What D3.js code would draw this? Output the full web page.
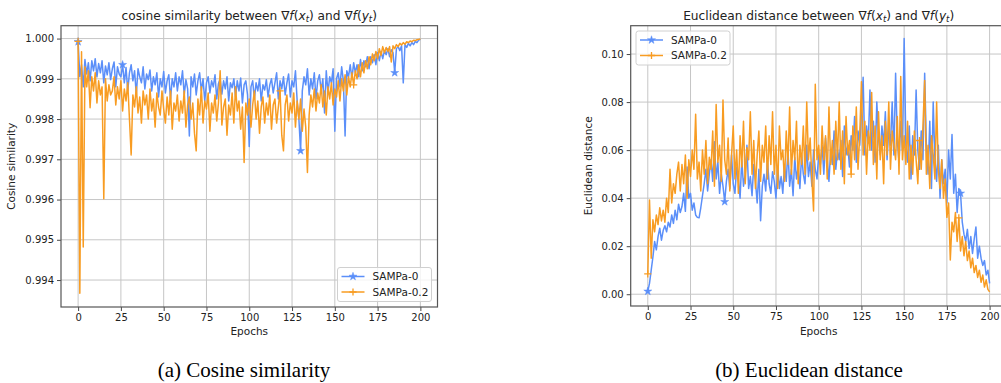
<!DOCTYPE html>
<html>
<head>
<meta charset="utf-8">
<script src="https://cdn.jsdelivr.net/npm/d3@7"></script>
<style>
  body { margin: 0; background: #fff; }
  svg { display: block; }
  text { font-family: "DejaVu Sans", sans-serif; fill: #222; }
  .caption { font-family: "Liberation Serif", "Times New Roman", serif; fill: #000; }
</style>
</head>
<body>
<script>
// epochs 0..200
const epochs = d3.range(0, 201);

const cosSampa0 = [
  0.99992,
  0.99905, 0.99935, 0.99880, 0.99948, 0.99912, 0.99940, 0.99895, 0.99945, 0.99920,
  0.99950, 0.99905, 0.99938, 0.99915, 0.99945, 0.99890, 0.99932, 0.99910, 0.99940, 0.99898,
  0.99925, 0.99942, 0.99880, 0.99930, 0.99912, 0.99905, 0.99935, 0.99890, 0.99928, 0.99870,
  0.99915, 0.99935, 0.99895, 0.99920, 0.99860, 0.99925, 0.99905, 0.99890, 0.99930, 0.99875,
  0.99912, 0.99898, 0.99922, 0.99870, 0.99905, 0.99885, 0.99915, 0.99855, 0.99900, 0.99880,
  0.99918, 0.99865, 0.99895, 0.99910, 0.99850, 0.99900, 0.99880, 0.99915, 0.99870, 0.99905,
  0.99885, 0.99920, 0.99860, 0.99898, 0.99875, 0.99758, 0.99905, 0.99880, 0.99912, 0.99860,
  0.99895, 0.99915, 0.99870, 0.99900, 0.99845, 0.99890, 0.99905, 0.99865, 0.99895, 0.99880,
  0.99910, 0.99850, 0.99888, 0.99900, 0.99862, 0.99895, 0.99875, 0.99905, 0.99845, 0.99890,
  0.99878, 0.99900, 0.99855, 0.99895, 0.99870, 0.99902, 0.99840, 0.99885, 0.99895, 0.99860,
  0.99732, 0.99880, 0.99895, 0.99850, 0.99890, 0.99870, 0.99900, 0.99845, 0.99885, 0.99872,
  0.99898, 0.99855, 0.99885, 0.99900, 0.99865, 0.99890, 0.99915, 0.99850, 0.99895, 0.99875,
  0.99905, 0.99860, 0.99890, 0.99912, 0.99855, 0.99895, 0.99880, 0.99920, 0.99845, 0.99800,
  0.99721, 0.99870, 0.99905, 0.99885, 0.99925, 0.99860, 0.99900, 0.99875, 0.99915, 0.99850,
  0.99895, 0.99910, 0.99870, 0.99900, 0.99815, 0.99920, 0.99865, 0.99905, 0.99890, 0.99925,
  0.99770, 0.99900, 0.99915, 0.99880, 0.99930, 0.99895, 0.99758, 0.99920, 0.99905, 0.99935,
  0.99900, 0.99940, 0.99915, 0.99935, 0.99905, 0.99948, 0.99920, 0.99945, 0.99930, 0.99955,
  0.99925, 0.99955, 0.99940, 0.99960, 0.99935, 0.99965, 0.99945, 0.99968, 0.99950, 0.99970,
  0.99960, 0.99975, 0.99955, 0.99972, 0.99965, 0.99915, 0.99975, 0.99980, 0.99970, 0.99982,
  0.99890, 0.99985, 0.99978, 0.99988, 0.99982, 0.99990, 0.99985, 0.99993, 0.99990, 0.99996,
  0.99998
];

const cosSampa02 = [
  0.99993,
  0.99367, 0.99967, 0.99482, 0.99930, 0.99880, 0.99920, 0.99828, 0.99905, 0.99870,
  0.99915, 0.99840, 0.99895, 0.99860, 0.99880, 0.99602, 0.99900, 0.99845, 0.99885, 0.99860,
  0.99870, 0.99905, 0.99835, 0.99880, 0.99850, 0.99895, 0.99820, 0.99875, 0.99845, 0.99890,
  0.99800, 0.99711, 0.99860, 0.99830, 0.99880, 0.99815, 0.99855, 0.99790, 0.99870, 0.99835,
  0.99860, 0.99800, 0.99875, 0.99820, 0.99850, 0.99780, 0.99865, 0.99830, 0.99810, 0.99870,
  0.99825, 0.99790, 0.99855, 0.99810, 0.99870, 0.99775, 0.99840, 0.99820, 0.99860, 0.99795,
  0.99845, 0.99815, 0.99870, 0.99780, 0.99835, 0.99855, 0.99800, 0.99840, 0.99765, 0.99721,
  0.99850, 0.99810, 0.99880, 0.99790, 0.99845, 0.99825, 0.99865, 0.99770, 0.99840, 0.99815,
  0.99860, 0.99795, 0.99840, 0.99920, 0.99785, 0.99830, 0.99850, 0.99760, 0.99835, 0.99810,
  0.99865, 0.99790, 0.99880, 0.99820, 0.99845, 0.99775, 0.99830, 0.99692, 0.99840, 0.99810,
  0.99850, 0.99780, 0.99835, 0.99870, 0.99800, 0.99845, 0.99765, 0.99830, 0.99855, 0.99790,
  0.99840, 0.99810, 0.99860, 0.99775, 0.99835, 0.99850, 0.99790, 0.99830, 0.99870, 0.99760,
  0.99721, 0.99835, 0.99860, 0.99795, 0.99840, 0.99815, 0.99865, 0.99780, 0.99845, 0.99800,
  0.99850, 0.99770, 0.99825, 0.99780, 0.99667, 0.99810, 0.99860, 0.99830, 0.99875, 0.99820,
  0.99865, 0.99840, 0.99885, 0.99830, 0.99870, 0.99810, 0.99880, 0.99850, 0.99890, 0.99835,
  0.99875, 0.99855, 0.99895, 0.99845, 0.99900, 0.99870, 0.99910, 0.99860, 0.99905, 0.99880,
  0.99915, 0.99885, 0.99920, 0.99900, 0.99935, 0.99905, 0.99940, 0.99915, 0.99945, 0.99925,
  0.99955, 0.99935, 0.99962, 0.99945, 0.99968, 0.99950, 0.99975, 0.99958, 0.99980, 0.99965,
  0.99978, 0.99968, 0.99980, 0.99942, 0.99982, 0.99975, 0.99985, 0.99980, 0.99988, 0.99984,
  0.99990, 0.99986, 0.99992, 0.99990, 0.99994, 0.99992, 0.99996, 0.99995, 0.99997, 0.99998,
  0.99999
];

const eucSampa0 = [
  0.0012,
  0.0045, 0.0100, 0.0155, 0.0220, 0.0185, 0.0240, 0.0275, 0.0225, 0.0265,
  0.0285, 0.0260, 0.0300, 0.0280, 0.0330, 0.0295, 0.0350, 0.0310, 0.0375, 0.0340,
  0.0365, 0.0420, 0.0345, 0.0530, 0.0400, 0.0420, 0.0350, 0.0380, 0.0330, 0.0320,
  0.0318, 0.0360, 0.0410, 0.0460, 0.0520, 0.0430, 0.0500, 0.0560, 0.0470, 0.0635,
  0.0480, 0.0550, 0.0420, 0.0500, 0.0450, 0.0385, 0.0470, 0.0520, 0.0440, 0.0580,
  0.0460, 0.0420, 0.0530, 0.0480, 0.0400, 0.0560, 0.0450, 0.0500, 0.0620, 0.0440,
  0.0490, 0.0410, 0.0540, 0.0470, 0.0380, 0.0520, 0.0306, 0.0450, 0.0500, 0.0430,
  0.0560, 0.0460, 0.0420, 0.0510, 0.0470, 0.0400, 0.0530, 0.0440, 0.0490, 0.0420,
  0.0540, 0.0470, 0.0600, 0.0450, 0.0520, 0.0410, 0.0570, 0.0480, 0.0530, 0.0440,
  0.0580, 0.0500, 0.0460, 0.0620, 0.0490, 0.0550, 0.0450, 0.0600, 0.0520, 0.0480,
  0.0580, 0.0540, 0.0620, 0.0500, 0.0650, 0.0560, 0.0470, 0.0600, 0.0540, 0.0680,
  0.0520, 0.0600, 0.0560, 0.0640, 0.0490, 0.0700, 0.0580, 0.0620, 0.0530, 0.0660,
  0.0600, 0.0740, 0.0550, 0.0680, 0.0620, 0.0760, 0.0903, 0.0580, 0.0700, 0.0630,
  0.0850, 0.0600, 0.0720, 0.0550, 0.0800, 0.0650, 0.0580, 0.0700, 0.0620, 0.0760,
  0.0560, 0.0690, 0.0620, 0.0800, 0.0580, 0.0920, 0.0640, 0.0550, 0.0720, 0.0600,
  0.1065, 0.0620, 0.0550, 0.0700, 0.0480, 0.0660, 0.0580, 0.0850, 0.0600, 0.0520,
  0.0680, 0.0560, 0.0920, 0.0620, 0.0500, 0.0720, 0.0440, 0.0800, 0.0560, 0.0470,
  0.0620, 0.0400, 0.0560, 0.0460, 0.0520, 0.0380, 0.0600, 0.0480, 0.0665, 0.0420,
  0.0500, 0.0340, 0.0440, 0.0420, 0.0300, 0.0250, 0.0220, 0.0270, 0.0190, 0.0240,
  0.0170, 0.0230, 0.0280, 0.0150, 0.0200, 0.0150, 0.0120, 0.0140, 0.0080, 0.0100,
  0.0045
];

const eucSampa02 = [
  0.0085,
  0.0392, 0.0150, 0.0310, 0.0260, 0.0330, 0.0290, 0.0360, 0.0305, 0.0350,
  0.0300, 0.0400, 0.0340, 0.0520, 0.0380, 0.0460, 0.0420, 0.0500, 0.0550, 0.0430,
  0.0540, 0.0460, 0.0580, 0.0400, 0.0560, 0.0490, 0.0600, 0.0520, 0.0749, 0.0480,
  0.0550, 0.0430, 0.0600, 0.0500, 0.0640, 0.0460, 0.0570, 0.0520, 0.0680, 0.0450,
  0.0790, 0.0550, 0.0620, 0.0470, 0.0809, 0.0560, 0.0500, 0.0650, 0.0430, 0.0580,
  0.0700, 0.0480, 0.0600, 0.0420, 0.0660, 0.0530, 0.0720, 0.0460, 0.0610, 0.0560,
  0.0760, 0.0500, 0.0640, 0.0440, 0.0580, 0.0680, 0.0470, 0.0620, 0.0550, 0.0700,
  0.0480, 0.0660, 0.0540, 0.0760, 0.0500, 0.0620, 0.0440, 0.0700, 0.0560, 0.0600,
  0.0470, 0.0680, 0.0540, 0.0780, 0.0500, 0.0640, 0.0560, 0.0720, 0.0460, 0.0620,
  0.0540, 0.0700, 0.0500, 0.0800, 0.0560, 0.0650, 0.0480, 0.0347, 0.0874, 0.0560,
  0.0620, 0.0500, 0.0700, 0.0560, 0.0660, 0.0480, 0.0780, 0.0540, 0.0640, 0.0500,
  0.0720, 0.0560, 0.0800, 0.0520, 0.0680, 0.0460, 0.0740, 0.0580, 0.0640, 0.0500,
  0.0700, 0.0560, 0.0780, 0.0520, 0.0660, 0.0885, 0.0580, 0.0720, 0.0500, 0.0680,
  0.0600, 0.0840, 0.0540, 0.0700, 0.0480, 0.0760, 0.0560, 0.0660, 0.0460, 0.0720,
  0.0580, 0.0800, 0.0520, 0.0680, 0.0620, 0.0560, 0.0740, 0.0500, 0.0906, 0.0560,
  0.0660, 0.0540, 0.0720, 0.0480, 0.0620, 0.0500, 0.0680, 0.0560, 0.0460, 0.0640,
  0.0520, 0.0700, 0.0890, 0.0500, 0.0620, 0.0440, 0.0660, 0.0580, 0.0480, 0.0800,
  0.0520, 0.0440, 0.0560, 0.0400, 0.0480, 0.0320, 0.0380, 0.0143, 0.0300, 0.0260,
  0.0340, 0.0220, 0.0318, 0.0180, 0.0240, 0.0160, 0.0220, 0.0140, 0.0180, 0.0110,
  0.0150, 0.0090, 0.0120, 0.0070, 0.0100, 0.0050, 0.0080, 0.0030, 0.0060, 0.0020,
  0.0010
];

// epochs where the markers sit
const cosMarks0 = [0, 26, 130, 185];
const cosMarks02 = [0, 118, 161];
const eucMarks0 = [0, 45, 183];
const eucMarks02 = [0, 119, 159, 182];

const xTicks = [0, 25, 50, 75, 100, 125, 150, 175, 200];
const cosTicks = [0.994, 0.995, 0.996, 0.997, 0.998, 0.999, 1.000];
const eucTicks = [0.00, 0.02, 0.04, 0.06, 0.08, 0.10];
const seriesNames = ["SAMPa-0", "SAMPa-0.2"];
const colors = ["#5b8ff9", "#f89c22"];

const W = 1001, H = 383;
const svg = d3.select("body").append("svg").attr("width", W).attr("height", H);

const starSym = d3.symbol().type(d3.symbolStar).size(20)();
const plusPath = "M-3.6,0H3.6M0,-3.6V3.6";

function drawMarker(g, x, y, kind, color) {
  if (kind === 0) {
    g.append("path").attr("d", starSym).attr("transform", `translate(${x},${y})`)
      .attr("fill", color).attr("stroke", color).attr("stroke-width", 0.5);
  } else {
    g.append("path").attr("d", plusPath).attr("transform", `translate(${x},${y})`)
      .attr("fill", "none").attr("stroke", color).attr("stroke-width", 1.3);
  }
}

function panel(opt) {
  const x = d3.scaleLinear().domain([-10, 210]).range([opt.left, opt.right]);
  const y = d3.scaleLinear().domain(opt.yDomain).range([opt.bottom, opt.top]);
  const g = svg.append("g");

  const clipId = "clip" + opt.id;
  svg.append("clipPath").attr("id", clipId).append("rect")
    .attr("x", opt.left).attr("y", opt.top)
    .attr("width", opt.right - opt.left).attr("height", opt.bottom - opt.top);

  // grid
  const grid = g.append("g").attr("stroke", "#c6c6c6").attr("stroke-width", 1);
  xTicks.forEach(t => grid.append("line")
    .attr("x1", x(t)).attr("x2", x(t)).attr("y1", opt.top).attr("y2", opt.bottom));
  opt.yTicks.forEach(t => grid.append("line")
    .attr("x1", opt.left).attr("x2", opt.right).attr("y1", y(t)).attr("y2", y(t)));

  // lines
  const line = d3.line().x((d, i) => x(epochs[i])).y(d => y(d));
  const plot = g.append("g").attr("clip-path", `url(#${clipId})`);
  opt.series.forEach((s, k) => {
    plot.append("path").datum(s).attr("d", line)
      .attr("fill", "none").attr("stroke", colors[k])
      .attr("stroke-width", 1.5).attr("stroke-linejoin", "round");
  });
  opt.marks.forEach((m, k) => {
    m.forEach(e => drawMarker(plot, x(e), y(opt.series[k][e]), k, colors[k]));
  });

  // axes
  const ax = g.append("g").attr("transform", `translate(0,${opt.bottom})`)
    .call(d3.axisBottom(x).tickValues(xTicks).tickSize(4).tickPadding(3).tickFormat(d3.format("d")));
  const ay = g.append("g").attr("transform", `translate(${opt.left},0)`)
    .call(d3.axisLeft(y).tickValues(opt.yTicks).tickSize(4).tickPadding(3).tickFormat(d3.format(opt.fmt)));
  [ax, ay].forEach(a => {
    a.select(".domain").remove();
    a.selectAll(".tick line").attr("stroke", "#333").attr("stroke-width", 0.9);
    a.selectAll(".tick text").attr("font-size", 10).attr("font-family", "DejaVu Sans").attr("fill", "#222");
  });

  // frame
  g.append("rect").attr("x", opt.left).attr("y", opt.top)
    .attr("width", opt.right - opt.left).attr("height", opt.bottom - opt.top)
    .attr("fill", "none").attr("stroke", "#555").attr("stroke-width", 1.2);

  // title
  const cx = (opt.left + opt.right) / 2;
  const title = g.append("text").attr("x", cx).attr("y", 19.5)
    .attr("text-anchor", "middle").attr("font-size", 12.2);
  title.append("tspan").text(opt.titleText + " between \u2207");
  title.append("tspan").attr("font-style", "italic").text("f");
  title.append("tspan").text("(");
  title.append("tspan").attr("font-style", "italic").text("x");
  title.append("tspan").attr("font-style", "italic").attr("font-size", 8.5).attr("dy", 2.8).text("t");
  title.append("tspan").attr("dy", -2.8).text(") and \u2207");
  title.append("tspan").attr("font-style", "italic").text("f");
  title.append("tspan").text("(");
  title.append("tspan").attr("font-style", "italic").text("y");
  title.append("tspan").attr("font-style", "italic").attr("font-size", 8.5).attr("dy", 2.8).text("t");
  title.append("tspan").attr("dy", -2.8).text(")");

  // axis labels
  g.append("text").attr("x", cx).attr("y", 335).attr("text-anchor", "middle")
    .attr("font-size", 10.5).text("Epochs");
  g.append("text").attr("transform", `translate(${opt.ylabelX},${(opt.top + opt.bottom) / 2}) rotate(-90)`)
    .attr("text-anchor", "middle").attr("font-size", 10.5).text(opt.ylabel);

  // legend
  const lg = g.append("g").attr("transform", `translate(${opt.legend[0]},${opt.legend[1]})`);
  lg.append("rect").attr("x", 0).attr("y", 0).attr("width", 94).attr("height", 34)
    .attr("rx", 2.5).attr("fill", "#fff").attr("fill-opacity", 0.8)
    .attr("stroke", "#d0d0d0").attr("stroke-width", 1);
  seriesNames.forEach((n, k) => {
    const yy = 9 + k * 15.5;
    lg.append("line").attr("x1", 4).attr("x2", 27).attr("y1", yy).attr("y2", yy)
      .attr("stroke", colors[k]).attr("stroke-width", 1.5);
    drawMarker(lg, 15.5, yy, k, colors[k]);
    lg.append("text").attr("x", 35).attr("y", yy + 3.6).attr("font-size", 10.5).text(n);
  });

  // caption
  svg.append("text").attr("class", "caption").attr("x", opt.captionX).attr("y", 377)
    .attr("text-anchor", "middle").attr("font-size", 21).text(opt.caption);
}

panel({
  id: "a", left: 61, right: 437.5, top: 25.7, bottom: 307,
  yDomain: [0.99333, 1.00032], yTicks: cosTicks, fmt: ".3f",
  series: [cosSampa0, cosSampa02], marks: [cosMarks0, cosMarks02],
  titleText: "cosine similarity", ylabel: "Cosine similarity", ylabelX: 15,
  legend: [337.5, 267.5], caption: "(a) Cosine similarity", captionX: 244
});

panel({
  id: "b", left: 630.7, right: 1006.7, top: 25.7, bottom: 306,
  yDomain: [-0.0049, 0.1118], yTicks: eucTicks, fmt: ".2f",
  series: [eucSampa0, eucSampa02], marks: [eucMarks0, eucMarks02],
  titleText: "Euclidean distance", ylabel: "Euclidean distance", ylabelX: 592,
  legend: [636, 31], caption: "(b) Euclidean distance", captionX: 809
});
</script>
</body>
</html>
